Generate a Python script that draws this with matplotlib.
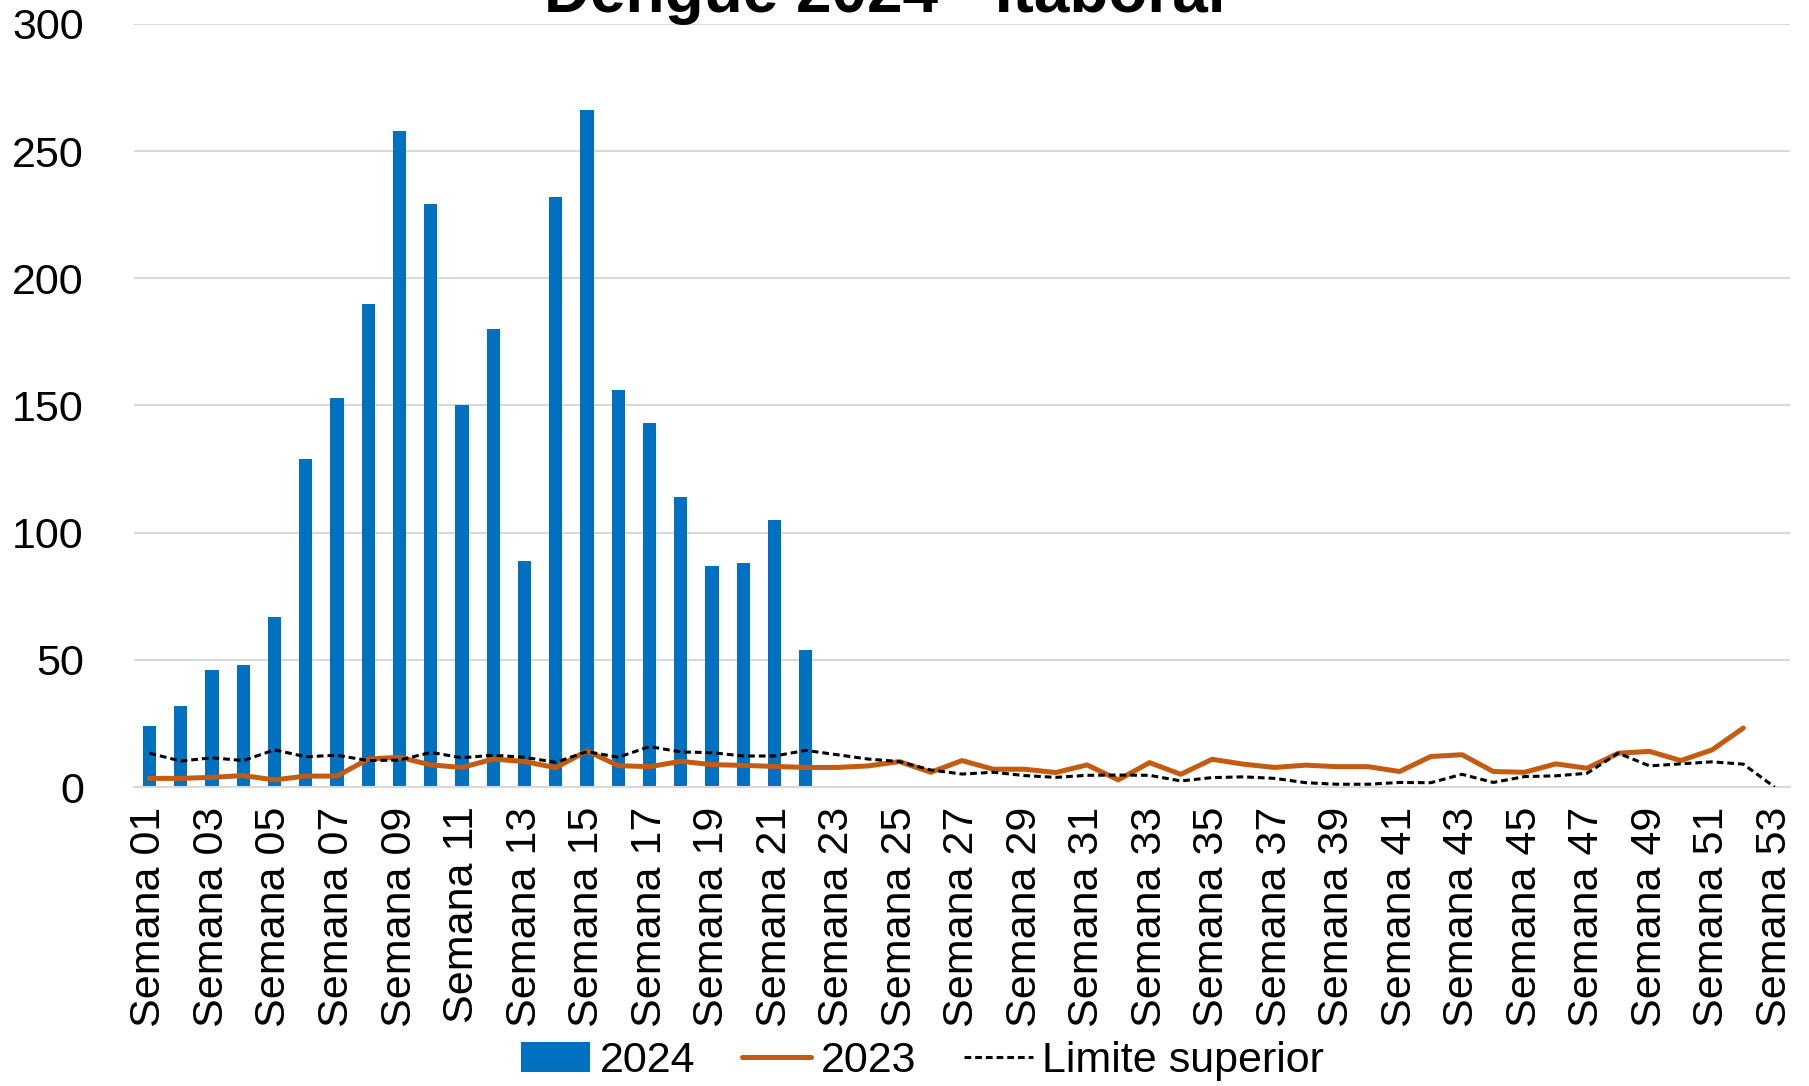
import numpy as np
import matplotlib.pyplot as plt

plt.rcParams['font.family'] = ['Liberation Sans', 'DejaVu Sans']

weeks = [f'Semana {i:02d}' for i in range(1, 54)]

casos_2024 = [24, 32, 46, 48, 67, 129, 153, 190, 258, 229, 150, 180, 89, 232,
              266, 156, 143, 114, 87, 88, 105, 54]

casos_2023 = [3.4, 3.4, 3.8, 4.5, 2.8, 4.3, 4.3, 11.0, 11.7, 8.7, 7.7, 11.0, 10.0,
              7.6, 14.2, 8.4, 8.0, 10.1, 8.8, 8.5, 8.1, 7.7, 7.7, 8.3, 10.0, 5.8,
              10.4, 7.0, 7.0, 5.7, 8.7, 2.8, 9.6, 5.0, 10.9, 9.0, 7.7, 8.6, 8.0,
              8.0, 6.1, 12.0, 12.7, 6.1, 5.8, 9.1, 7.4, 13.3, 14.0, 10.4, 14.6, 23.2]

limite_superior = [13.3, 10.2, 11.5, 10.4, 14.6, 11.9, 12.5, 10.4, 10.6, 13.6, 11.5,
                   12.5, 11.7, 9.7, 13.9, 11.7, 15.9, 13.8, 13.5, 12.2, 12.2, 14.4,
                   12.7, 11.0, 10.0, 6.7, 5.1, 5.8, 4.5, 3.8, 4.6, 4.7, 4.6, 2.4,
                   3.7, 4.0, 3.4, 1.7, 1.1, 1.1, 1.8, 1.7, 5.0, 1.8, 4.1, 4.4, 5.4,
                   13.3, 8.3, 9.1, 9.9, 9.0, 0.0]

fig = plt.figure(figsize=(18.09, 10.86), dpi=100)
ax = fig.add_axes([0.074, 0.2753, 0.9156, 0.7027])

x = np.arange(len(weeks))
bars = ax.bar(x[:len(casos_2024)], casos_2024, width=0.42, color='#0070C0',
              label='2024', zorder=2)
l23, = ax.plot(x[:len(casos_2023)], casos_2023, color='#C55A11', linewidth=3.6,
               solid_capstyle='round', solid_joinstyle='round', label='2023', zorder=3)
lim, = ax.plot(x[:len(limite_superior)], limite_superior, color='black', linewidth=2.2,
               linestyle=(0, (2.2, 1.3)), label='Limite superior', zorder=4)

ax.set_xlim(-0.5, len(weeks) - 0.5)
ax.set_ylim(0, 300)
ax.set_yticks(np.arange(0, 301, 50))
ax.set_xticks(x[::2])
ax.set_xticklabels(weeks[::2], rotation=90, fontsize=31)
ax.tick_params(axis='y', labelsize=31, length=0, pad=36)
ax.tick_params(axis='x', length=0, pad=14)

ax.grid(axis='y', color='#D9D9D9', linewidth=1.5, zorder=0)
ax.set_axisbelow(True)
for s in ['top', 'right', 'left']:
    ax.spines[s].set_visible(False)
ax.spines['bottom'].set_color('#D9D9D9')
ax.spines['bottom'].set_linewidth(1.5)

# title sits partly above the canvas, as in the source image
fig.text(0.489, 0.989, 'Dengue 2024 - Itaboraí', ha='center', va='baseline',
         fontsize=46, fontweight='bold')

fig.legend([bars, l23, lim], ['2024', '2023', 'Limite superior'],
           loc='center', bbox_to_anchor=(0.51, 0.023), ncol=3, frameon=False,
           fontsize=31, handlelength=1.6, handletextpad=0.22, columnspacing=1.1,
           borderaxespad=0)

fig.savefig('out.png', dpi=100)
